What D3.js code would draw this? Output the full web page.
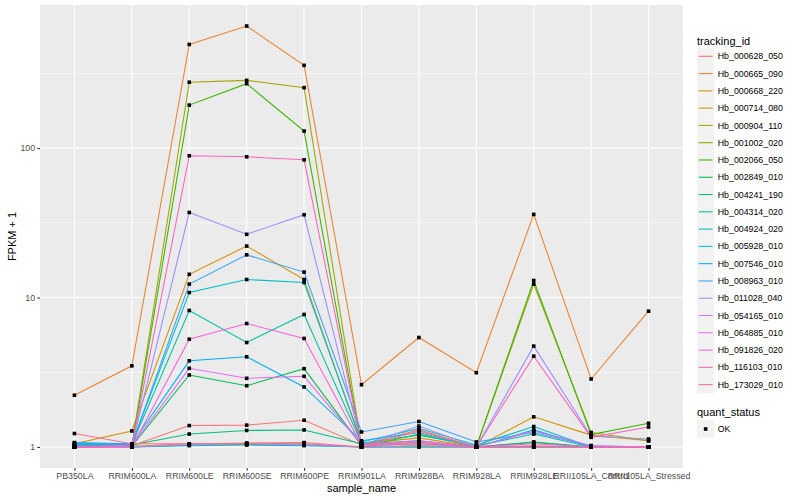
<!DOCTYPE html>
<html>
<head>
<meta charset="utf-8">
<script src="https://cdn.jsdelivr.net/npm/d3@7"></script>
<style>
  body { margin: 0; background: #fff; }
  svg { font-family: "Liberation Sans", Arial, Helvetica, sans-serif; }
</style>
</head>
<body>
<svg id="chart" width="800" height="500"></svg>
<script>
const samples = ["PB350LA","RRIM600LA","RRIM600LE","RRIM600SE","RRIM600PE","RRIM901LA","RRIM928BA","RRIM928LA","RRIM928LE","RRII105LA_Control","RRII105LA_Stressed"];

const trackingIds = ["Hb_000628_050","Hb_000665_090","Hb_000668_220","Hb_000714_080","Hb_000904_110","Hb_001002_020","Hb_002066_050","Hb_002849_010","Hb_004241_190","Hb_004314_020","Hb_004924_020","Hb_005928_010","Hb_007546_010","Hb_008963_010","Hb_011028_040","Hb_054165_010","Hb_064885_010","Hb_091826_020","Hb_116103_010","Hb_173029_010"];

const colors = ["#F8766D","#EA8331","#D89000","#C09B00","#A3A500","#7CAE00","#39B600","#00BB4E","#00BF7D","#00C1A3","#00BFC4","#00BAE0","#00B0F6","#35A2FF","#9590FF","#C77CFF","#E76BF3","#FA62DB","#FF62BC","#FF6C91"];

// FPKM + 1 per tracking_id, in sample order
const s_000628_050 = [1.00, 1.02, 1.39, 1.40, 1.51, 1.03, 1.30, 1.00, 1.02, 1.00, 1.00];
const s_000665_090 = [2.22, 3.49, 494, 656, 358, 2.61, 5.40, 3.14, 36.0, 2.85, 8.10];
const s_000668_220 = [1.05, 1.28, 14.3, 22.1, 13.2, 1.05, 1.15, 1.00, 1.59, 1.20, 1.10];
const s_000714_080 = [1.00, 1.01, 1.05, 1.06, 1.05, 1.00, 1.02, 1.00, 1.00, 1.00, 1.00];
const s_000904_110 = [1.00, 1.02, 276, 284, 254, 1.02, 1.08, 1.00, 12.3, 1.25, 1.10];
const s_001002_020 = [1.00, 1.00, 1.03, 1.04, 1.03, 1.00, 1.00, 1.00, 1.00, 1.00, 1.00];
const s_002066_050 = [1.00, 1.01, 194, 270, 130, 1.00, 1.22, 1.00, 13.0, 1.21, 1.44];
const s_002849_010 = [1.00, 1.01, 3.03, 2.57, 3.34, 1.02, 1.05, 1.00, 1.08, 1.00, 1.00];
const s_004241_190 = [1.02, 1.03, 1.22, 1.29, 1.30, 1.05, 1.10, 1.00, 1.07, 1.00, 1.00];
const s_004314_020 = [1.03, 1.04, 8.19, 5.00, 7.70, 1.06, 1.20, 1.02, 1.22, 1.00, 1.00];
const s_004924_020 = [1.04, 1.05, 10.8, 13.2, 12.6, 1.08, 1.33, 1.03, 1.37, 1.00, 1.00];
const s_005928_010 = [1.02, 1.00, 1.02, 1.03, 1.02, 1.00, 1.00, 1.00, 1.00, 1.00, 1.00];
const s_007546_010 = [1.07, 1.05, 3.77, 4.01, 2.52, 1.10, 1.25, 1.00, 1.30, 1.00, 1.00];
const s_008963_010 = [1.06, 1.04, 12.3, 19.3, 14.8, 1.26, 1.48, 1.08, 1.25, 1.02, 1.00];
const s_011028_040 = [1.00, 1.02, 37.1, 26.5, 35.8, 1.03, 1.38, 1.00, 4.73, 1.18, 1.13];
const s_054165_010 = [1.00, 1.00, 1.04, 1.05, 1.04, 1.00, 1.02, 1.00, 1.00, 1.00, 1.00];
const s_064885_010 = [1.01, 1.02, 3.36, 2.88, 2.97, 1.04, 1.10, 1.00, 1.28, 1.02, 1.00];
const s_091826_020 = [1.00, 1.00, 5.26, 6.70, 5.32, 1.03, 1.08, 1.00, 1.05, 1.00, 1.00];
const s_116103_010 = [1.00, 1.02, 88.9, 87.5, 83.5, 1.02, 1.05, 1.00, 4.05, 1.16, 1.36];
const s_173029_010 = [1.23, 1.05, 1.05, 1.06, 1.07, 1.00, 1.28, 1.00, 1.00, 1.00, 1.00];

const seriesValues = [s_000628_050,s_000665_090,s_000668_220,s_000714_080,s_000904_110,s_001002_020,s_002066_050,s_002849_010,s_004241_190,s_004314_020,s_004924_020,s_005928_010,s_007546_010,s_008963_010,s_011028_040,s_054165_010,s_064885_010,s_091826_020,s_116103_010,s_173029_010];

const yTicks = [1, 10, 100];
const yMinor = [Math.pow(10,0.5), Math.pow(10,1.5), Math.pow(10,2.5)];

const series = trackingIds.map((id, i) => ({
  id, color: colors[i],
  values: seriesValues[i].map((v, j) => ({ sample: samples[j], v }))
}));

const svg = d3.select("#chart");
const P = { left: 40, right: 683, top: 5, bottom: 468 };

// x: discrete with 0.6 expansion
const x = d3.scalePoint().domain(samples).range([P.left, P.right]).padding(0.6);

// y: log10 with 5% expansion in log space
const allV = seriesValues.flat();
const lmin = Math.log10(d3.min(allV)), lmax = Math.log10(d3.max(allV));
const ex = (lmax - lmin) * 0.05;
const y = d3.scaleLog().domain([Math.pow(10, lmin - ex), Math.pow(10, lmax + ex)]).range([P.bottom, P.top]);

// panel
svg.append("rect").attr("x", P.left).attr("y", P.top)
  .attr("width", P.right - P.left).attr("height", P.bottom - P.top).attr("fill", "#EBEBEB");

const grid = svg.append("g");
grid.selectAll(".ymin").data(yMinor).enter().append("line")
  .attr("x1", P.left).attr("x2", P.right).attr("y1", d => y(d)).attr("y2", d => y(d))
  .attr("stroke", "#fff").attr("stroke-width", 0.53);
grid.selectAll(".ymaj").data(yTicks).enter().append("line")
  .attr("x1", P.left).attr("x2", P.right).attr("y1", d => y(d)).attr("y2", d => y(d))
  .attr("stroke", "#fff").attr("stroke-width", 1.07);
grid.selectAll(".xmaj").data(samples).enter().append("line")
  .attr("y1", P.top).attr("y2", P.bottom).attr("x1", d => x(d)).attr("x2", d => x(d))
  .attr("stroke", "#fff").attr("stroke-width", 1.07);

// lines
const line = d3.line().x(d => x(d.sample)).y(d => y(d.v));
svg.append("g").selectAll("path").data(series).enter().append("path")
  .attr("d", d => line(d.values)).attr("fill", "none")
  .attr("stroke", d => d.color).attr("stroke-width", 1.07);

// points
const pts = series.flatMap(s => s.values);
svg.append("g").selectAll("rect").data(pts).enter().append("rect")
  .attr("x", d => x(d.sample) - 1.8).attr("y", d => y(d.v) - 1.8)
  .attr("width", 3.6).attr("height", 3.6).attr("fill", "#000");

// axes
const xAxis = d3.axisBottom(x).tickSize(2.7).tickPadding(2.2);
const gx = svg.append("g").attr("transform", `translate(0,${P.bottom})`).call(xAxis);
gx.select(".domain").remove();
gx.selectAll(".tick line").attr("stroke", "#333").attr("stroke-width", 1.07);
gx.selectAll(".tick text").attr("fill", "#4D4D4D").style("font-size", "8.8px")
  .style("font-family", "'Liberation Sans', Arial, sans-serif");

const yAxis = d3.axisLeft(y).tickValues(yTicks).tickFormat(d3.format("d")).tickSize(2.7).tickPadding(2.2);
const gy = svg.append("g").attr("transform", `translate(${P.left},0)`).call(yAxis);
gy.select(".domain").remove();
gy.selectAll(".tick line").attr("stroke", "#333").attr("stroke-width", 1.07);
gy.selectAll(".tick text").attr("fill", "#4D4D4D").style("font-size", "8.8px")
  .style("font-family", "'Liberation Sans', Arial, sans-serif");

// axis titles
svg.append("text").attr("x", (P.left + P.right) / 2).attr("y", 492)
  .attr("text-anchor", "middle").style("font-size", "11px").attr("fill", "#000").text("sample_name");
svg.append("text").attr("transform", `translate(16,${(P.top + P.bottom) / 2}) rotate(-90)`)
  .attr("text-anchor", "middle").style("font-size", "11px").attr("fill", "#000").text("FPKM + 1");

// legend: tracking_id
const L = svg.append("g");
const lx = 697, keyS = 17.28, firstC = 56.3;
L.append("text").attr("x", lx).attr("y", 45).style("font-size", "11px").attr("fill", "#000").text("tracking_id");
const items = L.selectAll(".item").data(series).enter().append("g")
  .attr("transform", (d, i) => `translate(${lx},${firstC + i * keyS})`);
items.append("rect").attr("x", 0).attr("y", -keyS / 2).attr("width", keyS).attr("height", keyS).attr("fill", "#F2F2F2");
items.append("line").attr("x1", 1.7).attr("x2", keyS - 1.7).attr("y1", 0).attr("y2", 0)
  .attr("stroke", d => d.color).attr("stroke-width", 1.07);
items.append("text").attr("x", keyS + 3.5).attr("y", 0).attr("dy", "0.35em")
  .style("font-size", "8.8px").attr("fill", "#000").text(d => d.id);

// legend: quant_status
const qs = ["OK"];
L.append("text").attr("x", lx).attr("y", 416).style("font-size", "11px").attr("fill", "#000").text("quant_status");
const q = L.selectAll(".q").data(qs).enter().append("g").attr("transform", (d, i) => `translate(${lx},${429 + i * keyS})`);
q.append("rect").attr("x", 0).attr("y", -keyS / 2).attr("width", keyS).attr("height", keyS).attr("fill", "#F2F2F2");
q.append("rect").attr("x", keyS / 2 - 1.8).attr("y", -1.8).attr("width", 3.6).attr("height", 3.6).attr("fill", "#000");
q.append("text").attr("x", keyS + 3.5).attr("y", 0).attr("dy", "0.35em").style("font-size", "8.8px").attr("fill", "#000").text(d => d);
</script>
</body>
</html>
